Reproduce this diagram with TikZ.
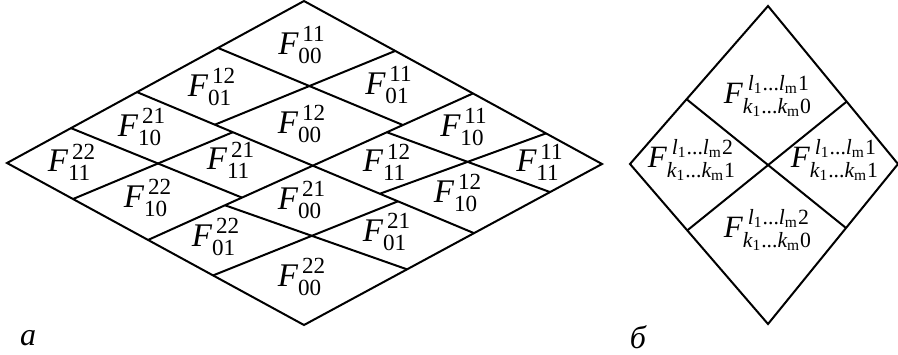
\documentclass[tikz,border=0pt]{standalone}
\usepackage{amsmath}
\usepackage{fontspec}
\setmainfont{Liberation Serif}
\usetikzlibrary{calc}
\newcommand{\iv}[1]{\text{\itshape #1}}
\newcommand{\Fkl}[2]{$\iv{F}^{\kern2pt\text{#1}}_{\text{#2}}$}
\newcommand{\Fgen}[2]{$\iv{F}^{\kern2.5pt\iv{l}_{\text{1}}\text{...}\iv{l}_{\text{m}}\text{#1}}_{\iv{k}_{\text{1}}\text{...}\iv{k}_{\text{m}}\text{#2}}$}

\begin{document}
\begin{tikzpicture}[x=0.5pt,y=-0.5pt,line width=1pt,
  lbl/.style={inner sep=0pt,font=\fontsize{16.5}{19}\selectfont},
  gen/.style={inner sep=0pt,font=\fontsize{15.5}{18}\selectfont},
  tag/.style={inner sep=0pt,font=\fontsize{16}{19}\selectfont\itshape}]
\useasboundingbox (0,0) rectangle (898,354);
% big rhombus (a)
\coordinate (T) at (304,1);
\coordinate (L) at (7,163);
\coordinate (B) at (304,325);
\coordinate (R) at (602,164);
\coordinate (Ptl) at ($(L)!0.4377!(T)$);
\coordinate (Ptr) at ($(T)!0.567!(R)$);
\coordinate (Pbl) at ($(L)!0.475!(B)$);
\coordinate (Pbr) at ($(B)!0.5705!(R)$);
\coordinate (C) at (intersection of Ptl--Pbr and Pbl--Ptr);
\draw (T) -- (L) -- (B) -- (R) -- cycle;
\draw (Ptl) -- (Pbr);
\draw (Pbl) -- (Ptr);
% second level
\draw ($(T)!0.515!(Ptl)$) -- ($(C)!0.5625!(Ptr)$);
\draw ($(T)!0.54!(Ptr)$) -- ($(C)!0.557!(Ptl)$);
\draw ($(L)!0.492!(Ptl)$) -- ($(C)!0.43!(Pbl)$);
\draw ($(L)!0.468!(Pbl)$) -- ($(C)!0.455!(Ptl)$);
\draw ($(C)!0.4625!(Ptr)$) -- ($(Pbr)!0.594!(R)$);
\draw ($(C)!0.416!(Pbr)$) -- ($(Ptr)!0.566!(R)$);
\draw ($(C)!0.533!(Pbl)$) -- ($(B)!0.606!(Pbr)$);
\draw ($(C)!0.528!(Pbr)$) -- ($(B)!0.583!(Pbl)$);
\node[lbl] (f11-00) at (302,45) {\Fkl{11}{00}};
\node[lbl] (f12-01) at (212,87) {\Fkl{12}{01}};
\node[lbl] (f11-01) at (389,85) {\Fkl{11}{01}};
\node[lbl] (f12-00) at (302,124) {\Fkl{12}{00}};
\node[lbl] (f21-10) at (142,127) {\Fkl{21}{10}};
\node[lbl] (f22-11) at (72,162) {\Fkl{22}{11}};
\node[lbl] (f21-11) at (231,160) {\Fkl{21}{11}};
\node[lbl] (f22-10) at (148,198) {\Fkl{22}{10}};
\node[lbl] (f11-10) at (464,127) {\Fkl{11}{10}};
\node[lbl] (f12-11) at (387,162) {\Fkl{12}{11}};
\node[lbl] (f11-11) at (540,162) {\Fkl{11}{11}};
\node[lbl] (f12-10) at (458,193) {\Fkl{12}{10}};
\node[lbl] (f21-00) at (302,200) {\Fkl{21}{00}};
\node[lbl] (f22-01) at (216,237) {\Fkl{22}{01}};
\node[lbl] (f21-01) at (387,232) {\Fkl{21}{01}};
\node[lbl] (f22-00) at (302,277) {\Fkl{22}{00}};
\node[tag] (tag-a) at (28,338) {a};
% square (b)
\coordinate (qT) at (768,6);
\coordinate (qL) at (630,164);
\coordinate (qB) at (768,324);
\coordinate (qR) at (898,164);
\draw (qT) -- (qL) -- (qB) -- (qR) -- cycle;
\draw ($(qT)!0.59!(qL)$) -- ($(qB)!0.6!(qR)$);
\draw ($(qT)!0.605!(qR)$) -- ($(qB)!0.585!(qL)$);
\node[gen] (gen-top) at (768,96) {\Fgen{1}{0}};
\node[gen] (gen-left) at (692,160) {\Fgen{2}{1}};
\node[gen] (gen-right) at (835,160) {\Fgen{1}{1}};
\node[gen] (gen-bottom) at (768,230) {\Fgen{2}{0}};
\node[tag] (tag-b) at (638,337) {б};
\end{tikzpicture}
\end{document}
